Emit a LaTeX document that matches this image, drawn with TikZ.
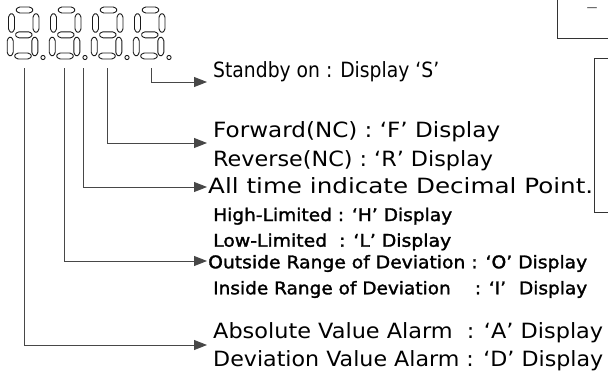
\documentclass[tikz,border=0pt]{standalone}
\usepackage{fontspec}
\setmainfont{DejaVu Sans}
\newfontfamily\semibold{DejaVu Sans}[FakeBold=1.6]
\usetikzlibrary{arrows.meta}
\newsavebox\fitbox
\newcommand{\fitw}[2]{\sbox\fitbox{#2}\pgfmathsetmacro\fitscale{#1/\wd\fitbox}\scalebox{\fitscale}[1]{\usebox\fitbox}}
\begin{document}
\begin{tikzpicture}[x=1pt,y=-1pt,
  seg/.style={draw=black!90, line width=0.9pt, rounded corners=1.3pt},
  hseg/.pic={\draw[seg] (-9,0) -- (-6,-3) -- (6,-3) -- (9,0) -- (6,3) -- (-6,3) -- cycle;},
  vseg/.pic={\draw[seg] (0,-10) -- (3,-7) -- (3,7) -- (0,10) -- (-3,7) -- (-3,-7) -- cycle;},
  conn/.style={draw=black!72, line width=0.9pt, -{Triangle[length=13pt,width=10pt]}},
  lbl/.style={anchor=base west, inner sep=0pt, font=\fontsize{21}{24}\selectfont},
  blbl/.style={anchor=base west, inner sep=0pt, font=\fontsize{17.5}{20}\semibold},
  frame/.style={draw=black!80, line width=0.9pt, inner sep=0pt}]
\useasboundingbox (0,0) rectangle (608,373);
\begin{scope}
\clip (0,0) rectangle (608,373);

% seven-segment digits with decimal points
\foreach \i in {0,1,2,3}{
  \begin{scope}[shift={(\i*42,0)}]
    \pic at (24.5,10) {hseg};
    \pic at (11.5,23) {vseg};
    \pic at (36,23)   {vseg};
    \pic at (23.8,34.8) {hseg};
    \pic at (10.2,46.5) {vseg};
    \pic at (34.8,46.5) {vseg};
    \pic at (23,56)   {hseg};
    \draw[draw=black!90, line width=0.9pt] (43,57.5) circle [radius=2.1pt];
  \end{scope}
}

% right-hand frames
\node[frame, minimum width=70pt, minimum height=58pt] (box1) at (592,9) {};
\node[frame, minimum width=40pt, minimum height=154pt] (box2) at (614,135) {};
\end{scope}
\node[text=black!60, inner sep=0pt, font=\fontsize{16}{17}\selectfont] (dash) at (592,10) {\fitw{12}{–}};

% connector start and end points
\coordinate (s1) at (24,68);
\coordinate (s2) at (64,68);
\coordinate (s3) at (83,68);
\coordinate (s4) at (107,68);
\coordinate (s5) at (151.5,68);
\coordinate (t1) at (207,345);
\coordinate (t2) at (207,261);
\coordinate (t3) at (207,187);
\coordinate (t4) at (207,143);
\coordinate (t5) at (207,82);

\draw[conn] (s5) |- (t5);
\draw[conn] (s4) |- (t4);
\draw[conn] (s3) |- (t3);
\draw[conn] (s2) |- (t2);
\draw[conn] (s1) |- (t1);

% labels
\node[lbl]  (l1)  at (213,77.3)  {\fitw{226}{Standby on : Display ‘S’}};
\node[lbl]  (l2)  at (213,137.3) {\fitw{287}{Forward(NC) : ‘F’ Display}};
\node[lbl]  (l3)  at (213,166)   {\fitw{280}{Reverse(NC) : ‘R’ Display}};
\node[lbl]  (l4)  at (208,193.3) {\fitw{385}{All time indicate Decimal Point.}};
\node[blbl] (l5)  at (213,221)   {\fitw{239}{High-Limited : ‘H’ Display}};
\node[blbl] (l6)  at (213,246.7) {\fitw{238}{Low-Limited\ \ : ‘L’ Display}};
\node[blbl] (l7)  at (208,268.3) {\fitw{379}{Outside Range of Deviation : ‘O’ Display}};
\node[blbl] (l8)  at (213,294.3) {\fitw{374}{Inside Range of Deviation\hspace{1.3em}: ‘I’\hspace{0.7em}Display}};
\node[lbl]  (l9)  at (213,338.3) {\fitw{390}{Absolute Value Alarm\ \ : ‘A’ Display}};
\node[lbl]  (l10) at (213,366.7) {\fitw{390}{Deviation Value Alarm : ‘D’ Display}};
\end{tikzpicture}
\end{document}
